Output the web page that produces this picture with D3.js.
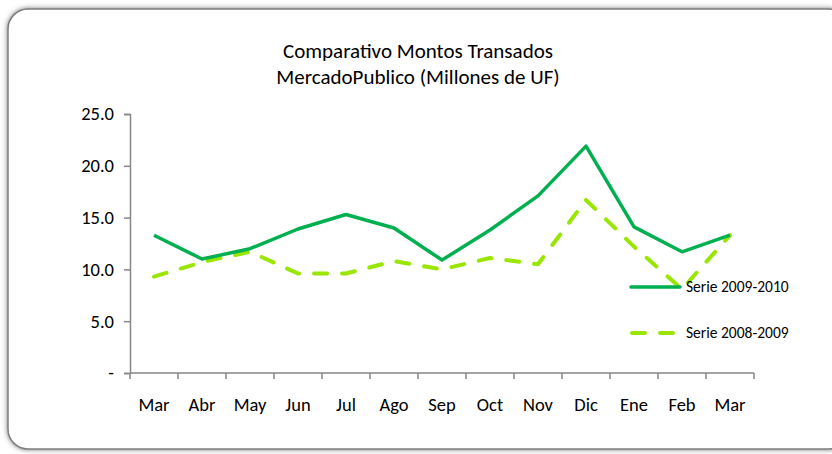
<!DOCTYPE html>
<html>
<head>
<meta charset="utf-8">
<script src="https://cdn.jsdelivr.net/npm/d3@7"></script>
<style>
  html, body { margin:0; padding:0; background:#fff; }
  svg { display:block; }
</style>
</head>
<body>
<svg id="chart" width="832" height="454"></svg>
<script>
// chart data
// ----------
var months = ["Mar","Abr","May","Jun","Jul","Ago","Sep","Oct","Nov","Dic","Ene","Feb","Mar"];
var serie0910 = [13.3, 11.0, 12.0, 13.9, 15.3, 14.0, 10.9, 13.8, 17.1, 21.9, 14.1, 11.7, 13.3];
var serie0809 = [9.3, 10.7, 11.7, 9.6, 9.6, 10.8, 10.0, 11.1, 10.5, 16.7, 12.2, 8.1, 13.3];
var yTicks = [0, 5, 10, 15, 20, 25];
var titleLines = ["Comparativo Montos Transados", "MercadoPublico (Millones de UF)"];
var seriesNames = ["Serie 2009-2010", "Serie 2008-2009"];

var szFont = "Carlito, Calibri, 'Open Sans', 'Liberation Sans', sans-serif";
var axisColor = "#868686";

var svg = d3.select("#chart");

// frame with shadow
// -----------------
var defs = svg.append("defs");
var f = defs.append("filter").attr("id","shadow").attr("x","-5%").attr("y","-5%").attr("width","110%").attr("height","110%");
f.append("feDropShadow").attr("dx",0).attr("dy",0).attr("stdDeviation",2.5).attr("flood-color","#555").attr("flood-opacity",0.8);

svg.append("rect")
  .attr("x", 8).attr("y", 9)
  .attr("width", 840).attr("height", 440)
  .attr("rx", 20).attr("ry", 20)
  .attr("style","fill:#fff;stroke:#7f7f7f;stroke-width:1.5;")
  .attr("filter","url(#shadow)");

// title
// -----
svg.selectAll("text.title").data(titleLines).enter().append("text")
  .attr("class","title")
  .attr("x", 418)
  .attr("y", function(d,i){ return 58 + i*26; })
  .attr("style","font-family:"+szFont+";font-size:21px;text-anchor:middle;fill:#000")
  .text(function(d){ return d; });

// scales
// ------
var x = d3.scaleBand().domain(d3.range(months.length)).range([130, 754]);
var y = d3.scaleLinear().domain([0, 25]).range([373, 114]);

// y axis
// ------
var yAxis = d3.axisLeft(y).tickValues(yTicks).tickSize(6).tickPadding(10)
  .tickFormat(function(d){ return d === 0 ? "-" : d3.format(".1f")(d); });
var gy = svg.append("g").attr("transform","translate(130,0)").call(yAxis);
gy.select(".domain").attr("stroke", axisColor).attr("stroke-width", 1.5);
gy.selectAll(".tick line").attr("stroke", axisColor).attr("stroke-width", 1.5);
gy.selectAll(".tick text").attr("style","font-family:"+szFont+";font-size:18.5px;fill:#000");

// x axis
// ------
var gx = svg.append("g").attr("transform","translate(0,373)");
gx.append("line").attr("x1",130).attr("x2",754).attr("y1",0).attr("y2",0)
  .attr("stroke",axisColor).attr("stroke-width",1.5);
gx.selectAll("line.tick").data(d3.range(months.length+1)).enter().append("line")
  .attr("class","tick")
  .attr("x1", function(i){ return i < months.length ? x(i) : x.range()[1]; })
  .attr("x2", function(i){ return i < months.length ? x(i) : x.range()[1]; })
  .attr("y1", 0).attr("y2", 6)
  .attr("stroke", axisColor).attr("stroke-width", 1.5);
gx.selectAll("text").data(months).enter().append("text")
  .attr("x", function(d,i){ return x(i) + x.bandwidth()/2; })
  .attr("y", 38)
  .attr("style","font-family:"+szFont+";font-size:18.5px;text-anchor:middle;fill:#000")
  .text(function(d){ return d; });

// lines
// -----
var line = d3.line()
  .x(function(d,i){ return x(i) + x.bandwidth()/2; })
  .y(function(d){ return y(d); });

svg.append("path").datum(serie0809)
  .attr("d", line)
  .attr("style","fill:none;stroke:#99E600;stroke-width:4;stroke-dasharray:13,15;stroke-linecap:round;stroke-linejoin:round");

svg.append("path").datum(serie0910)
  .attr("d", line)
  .attr("style","fill:none;stroke:#00B050;stroke-width:3.5;stroke-linejoin:round");

// legend
// ------
var legend = svg.append("g");
legend.append("line").attr("x1",631).attr("x2",680).attr("y1",287).attr("y2",287)
  .attr("style","stroke:#00B050;stroke-width:3.5;stroke-linecap:round");
legend.append("line").attr("x1",632).attr("x2",675).attr("y1",333).attr("y2",333)
  .attr("style","stroke:#99E600;stroke-width:4;stroke-dasharray:13,15;stroke-linecap:round");
legend.selectAll("text").data(seriesNames).enter().append("text")
  .attr("x", 686)
  .attr("y", function(d,i){ return 292 + i*46; })
  .attr("style","font-family:"+szFont+";font-size:15.5px;fill:#000")
  .text(function(d){ return d; });
</script>
</body>
</html>
